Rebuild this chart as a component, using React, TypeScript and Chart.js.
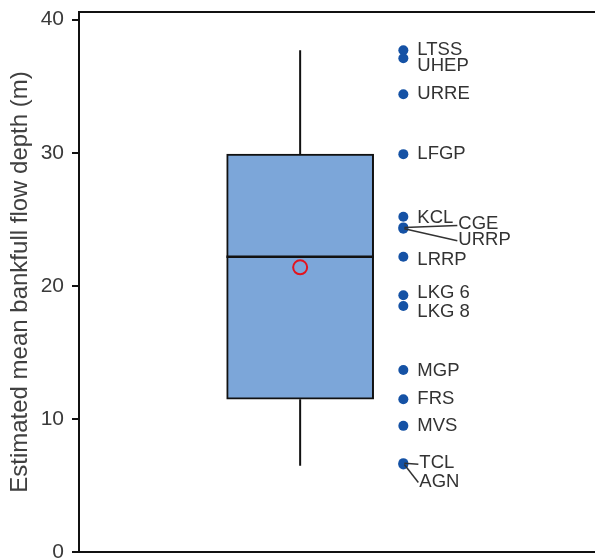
import { useEffect, useRef } from "react";
import { Chart, registerables } from "chart.js";
Chart.register(...registerables);

const siteNames = ["LTSS", "UHEP", "URRE", "LFGP", "KCL", "CGE", "URRP", "LRRP", "LKG 6", "LKG 8", "MGP", "FRS", "MVS", "TCL", "AGN"];
const siteDepths = [37.7, 37.1, 34.4, 29.9, 25.2, 24.4, 24.3, 22.2, 19.3, 18.5, 13.7, 11.5, 9.5, 6.7, 6.6];

const boxMin = [6.5];
const boxQ1 = [11.5];
const boxMedian = [22.2];
const boxQ3 = [29.9];
const boxMax = [37.7];
const boxMean = [21.4];

const yTicks = [0, 10, 20, 30, 40];
const yTitle = "Estimated mean bankfull flow depth (m)";

// layout-only: label nudges in pixels [dx, dy, leader]
const labelNudges: [number, number, boolean][] = [
  [14, 0, false], [14, 8, false], [14, 0, false], [14, 0, false], [14, 1, false],
  [55, -3, true], [55, 11, true], [14, 3, false], [14, -2, false], [14, 6, false],
  [14, 1, false], [14, 0, false], [14, 0, false], [16, 0, true], [16, 17, true],
];

const BOX_X = 1;
const PTS_X = 1.7;
const HALF = 0.5;
const FONT = "'Liberation Sans', Arial, sans-serif";

const labelPlugin = {
  id: "siteLabels",
  afterDatasetsDraw(chart: any) {
    const ctx = chart.ctx;
    const xs = chart.scales.x;
    const ys = chart.scales.y;
    ctx.save();
    ctx.font = `18.5px ${FONT}`;
    ctx.fillStyle = "#333333";
    ctx.strokeStyle = "#333333";
    ctx.lineWidth = 1.5;
    ctx.textBaseline = "middle";
    ctx.textAlign = "left";
    siteNames.forEach((name, i) => {
      const px = xs.getPixelForValue(PTS_X);
      const py = ys.getPixelForValue(siteDepths[i]);
      const [dx, dy, leader] = labelNudges[i];
      const lx = px + dx;
      const ly = py + dy;
      if (leader) {
        ctx.beginPath();
        ctx.moveTo(px + 1, py);
        ctx.lineTo(lx - 1, ly + 1);
        ctx.stroke();
      }
      ctx.fillText(name, lx, ly);
    });
    ctx.restore();
  },
};

const hiddenX = (position: string) => ({
  type: "linear",
  position,
  min: -0.5,
  max: 3,
  offset: false,
  grid: { display: false, drawTicks: false, tickLength: 0 },
  ticks: { display: false, padding: 0 },
  border: { display: true, color: "#111111", width: 2 },
  afterFit: (s: any) => { s.height = 0; },
});

export default function App() {
  const ref = useRef<HTMLCanvasElement | null>(null);
  useEffect(() => {
    if (!ref.current) return;
    const chart = new Chart(ref.current, {
      type: "scatter",
      data: {
        datasets: [
          {
            type: "bar",
            data: [{ x: BOX_X, y: [boxQ1[0], boxQ3[0]] }] as any,
            backgroundColor: "#7ca6d9",
            borderColor: "#111111",
            borderWidth: 2,
            borderSkipped: false,
            barThickness: 147,
            order: 5,
          } as any,
          {
            type: "line",
            data: [{ x: BOX_X, y: boxQ3[0] }, { x: BOX_X, y: boxMax[0] }],
            borderColor: "#111111",
            borderWidth: 2,
            pointRadius: 0,
            order: 4,
          },
          {
            type: "line",
            data: [{ x: BOX_X, y: boxMin[0] }, { x: BOX_X, y: boxQ1[0] }],
            borderColor: "#111111",
            borderWidth: 2,
            pointRadius: 0,
            order: 4,
          },
          {
            type: "line",
            data: [{ x: BOX_X - HALF, y: boxMedian[0] }, { x: BOX_X + HALF, y: boxMedian[0] }],
            borderColor: "#111111",
            borderWidth: 2.5,
            pointRadius: 0,
            order: 3,
          },
          {
            type: "scatter",
            data: [{ x: BOX_X, y: boxMean[0] }],
            pointStyle: "circle",
            pointRadius: 7,
            pointBorderWidth: 2,
            pointBorderColor: "#e3141e",
            pointBackgroundColor: "rgba(0,0,0,0)",
            order: 1,
          },
          {
            type: "scatter",
            data: siteDepths.map((v) => ({ x: PTS_X, y: v })),
            pointRadius: 5,
            pointBorderWidth: 0,
            pointBackgroundColor: "#1552a5",
            order: 0,
          },
        ],
      },
      options: {
        animation: false,
        responsive: false,
        layout: { autoPadding: false, padding: 0 } as any,
        plugins: { legend: { display: false }, tooltip: { enabled: false } },
        scales: {
          x: hiddenX("bottom") as any,
          xTop: hiddenX("top") as any,
          y: {
            type: "linear",
            min: 0,
            max: 40.6,
            afterBuildTicks: (s: any) => { s.ticks = yTicks.map((v) => ({ value: v })); },
            afterFit: (s: any) => { s.width = 79; },
            grid: { display: true, drawOnChartArea: false, drawTicks: true, tickLength: 7, color: "#111111", lineWidth: 2 },
            border: { display: true, color: "#111111", width: 2 },
            ticks: {
              padding: 8,
              color: "#3a3a3a",
              font: { size: 21, family: FONT },
            },
            title: {
              display: true,
              text: yTitle,
              color: "#404040",
              font: { size: 24, family: FONT },
              padding: { top: 6, bottom: 0 },
            },
          },
        },
      },
      plugins: [labelPlugin],
    });
    return () => chart.destroy();
  }, []);
  return (
    <div style={{ position: "absolute", left: 0, top: -9, width: 595, height: 582 }}>
      <canvas ref={ref} width={595} height={582} />
    </div>
  );
}
